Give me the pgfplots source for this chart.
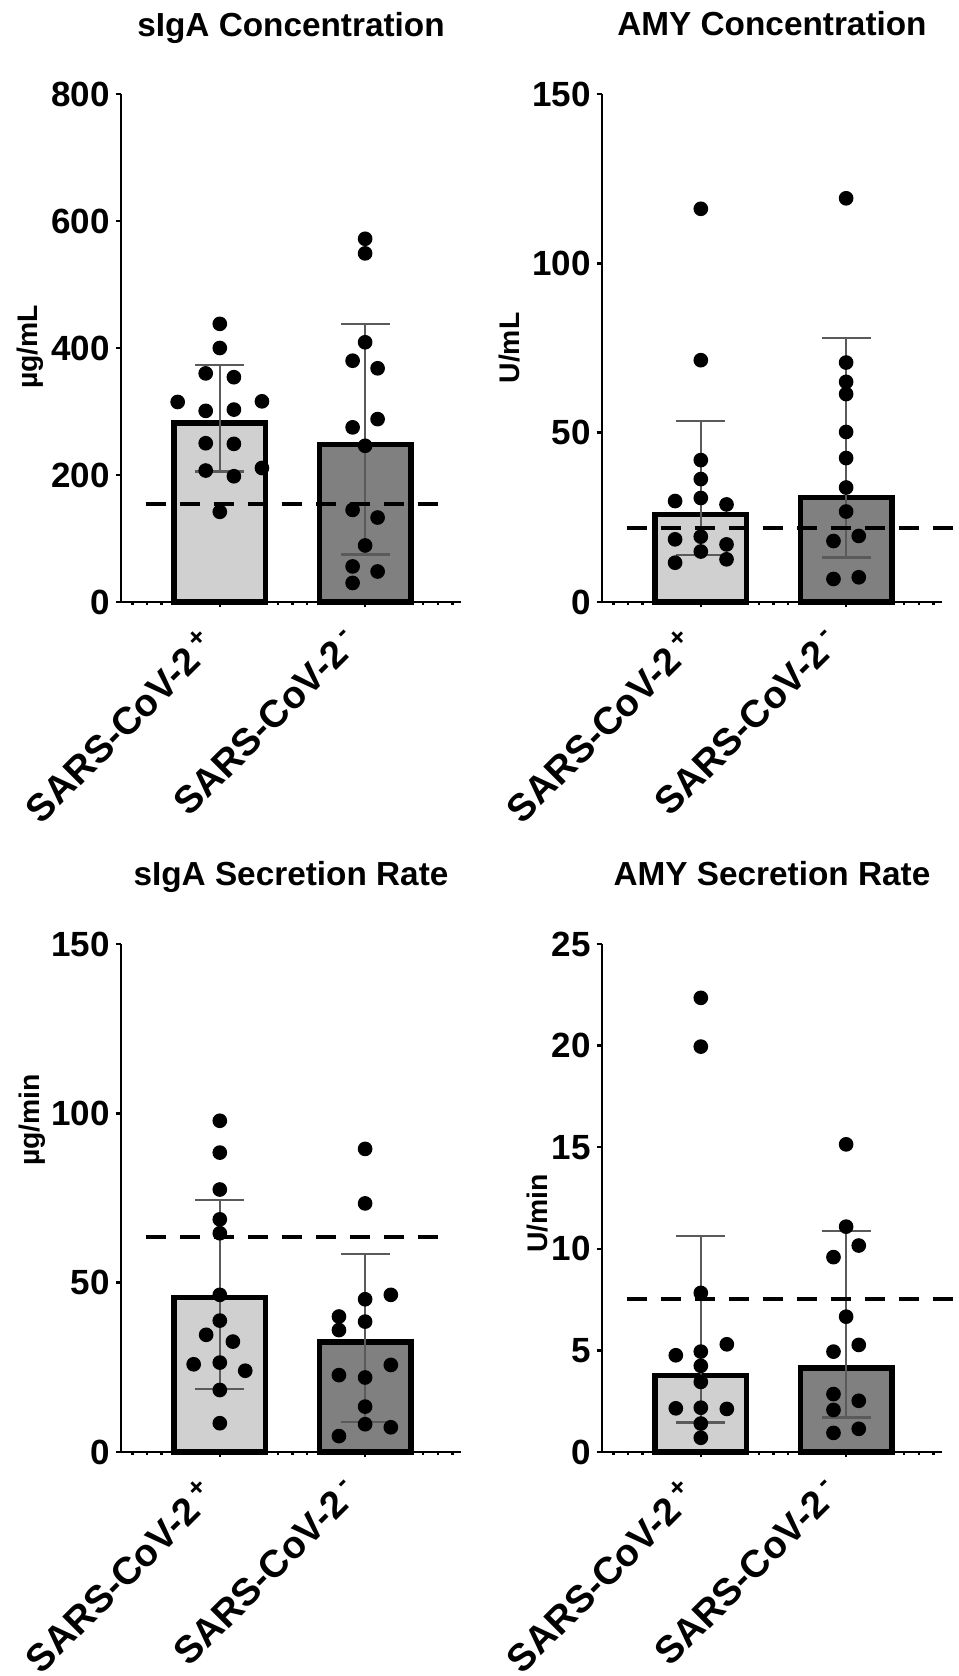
\documentclass[border=0pt]{standalone}
\usepackage{fontspec}
\setmainfont{Liberation Sans}
\usepackage{pgfplots}
\pgfplotsset{compat=1.18}

\definecolor{barlight}{RGB}{208,208,208}
\definecolor{bardark}{RGB}{128,128,128}
\definecolor{errgray}{RGB}{90,90,90}

\pgfplotsset{
  panel/.style={
    scale only axis, width=102pt, height=152.4pt,
    axis lines=left, axis line style={-, line width=0.75pt},
    xmin=-0.68, xmax=1.66, ymin=0,
    xtick={0,1},
    xticklabels={SARS-CoV-2\,\textsuperscript{+}, SARS-CoV-2\,\textsuperscript{-}},
    minor xtick={-0.6,-0.5,-0.4,-0.3,-0.2,-0.1,0.1,0.2,0.3,0.4,0.5,0.6,0.7,0.8,0.9,1.1,1.2,1.3,1.4,1.5,1.6},
    tick align=outside, major tick length=1.6pt, minor tick length=0.9pt,
    tick style={black, line width=0.75pt},
    /pgf/number format/assume math mode=true,
    x tick label style={rotate=45, anchor=north east, inner sep=1pt,
      xshift=-7.25pt, yshift=1.85pt,
      font=\bfseries\fontsize{11.5}{13}\selectfont},
    y tick label style={xshift=1.8pt, font=\bfseries\fontsize{10.5}{12}\selectfont},
    title style={at={(axis description cs:0.5,1)}, anchor=base, yshift=11.4pt,
      font=\bfseries\fontsize{10}{12}\selectfont},
    ylabel style={anchor=center, font=\bfseries\fontsize{8.5}{10}\selectfont},
    clip=false,
  },
  barA/.style={ybar, bar width=27.5pt, fill=#1, draw=black, line width=1.6pt,
    error bars/.cd, y dir=both, y explicit,
    error bar style={line width=0.75pt, errgray},
    error mark options={rotate=90, mark size=7.35pt, line width=0.75pt, errgray}},
  dots/.style={only marks, mark=*, mark size=2pt, black},
  cut/.style={black, line width=1.3pt, dash pattern=on 6pt off 4.2pt},
}

\begin{document}
\begin{tikzpicture}
\useasboundingbox (0,0) rectangle (287.4pt,502.8pt);

% sIgA concentration
\begin{axis}[panel, at={(36.3pt,322.2pt)}, anchor=south west,
  ymax=800, ytick={0,200,400,600,800},
  title={sIgA Concentration}, ylabel={µg/mL},
  ylabel style={at={(axis description cs:-0.268,0.502)}}]
\addplot[barA=barlight] coordinates {(0,282) += (0,91) -= (0,76.5)};
\addplot[barA=bardark] coordinates {(1,248) += (0,190) -= (0,173.4)};
\addplot[cut] coordinates {(-0.51,154) (1.52,154)};
\addplot[dots] coordinates {
  (0,438) (0,400) (-0.097,360) (0.097,354) (-0.29,315) (0.29,316) (-0.097,301)
  (0.097,303) (-0.097,250) (0.097,249) (-0.097,207) (0.29,211) (0.097,198) (0,142)};
\addplot[dots] coordinates {
  (1,572) (1,549) (1,409) (0.914,380) (1.086,368) (1.086,288) (0.914,275)
  (1,246) (0.914,145) (1.086,133) (1,89) (0.914,56) (1.086,48) (0.914,30)};
\end{axis}

% AMY concentration
\begin{axis}[panel, at={(180.6pt,322.2pt)}, anchor=south west,
  ymax=150, ytick={0,50,100,150},
  title={AMY Concentration}, ylabel={U/mL},
  ylabel style={at={(axis description cs:-0.271,0.5)}}]
\addplot[barA=barlight] coordinates {(0,25.8) += (0,27.6) -= (0,12.0)};
\addplot[barA=bardark] coordinates {(1,30.9) += (0,47.0) -= (0,17.8)};
\addplot[cut] coordinates {(-0.51,21.9) (1.74,21.9)};
\addplot[dots] coordinates {
  (0,116.1) (0,71.4) (0,41.9) (0,36.3) (-0.177,29.8) (0,30.7) (0.177,28.8)
  (-0.177,18.5) (0,19.3) (0.177,17.0) (0,14.9) (-0.177,11.6) (0.177,12.6)};
\addplot[dots] coordinates {
  (1,119.2) (1,70.7) (1,65.0) (1,61.4) (1,50.2) (1,42.5) (1,33.8) (1,26.7)
  (0.913,18.0) (1.087,19.5) (0.913,6.8) (1.087,7.3)};
\end{axis}

% sIgA secretion rate
\begin{axis}[panel, at={(36.3pt,67.2pt)}, anchor=south west,
  ymax=150, ytick={0,50,100,150},
  title={sIgA Secretion Rate}, ylabel={µg/min},
  ylabel style={at={(axis description cs:-0.26,0.654)}}]
\addplot[barA=barlight] coordinates {(0,45.6) += (0,28.8) -= (0,27.0)};
\addplot[barA=bardark] coordinates {(1,32.5) += (0,26.0) -= (0,23.6)};
\addplot[cut] coordinates {(-0.51,63.4) (1.50,63.4)};
\addplot[dots] coordinates {
  (0,97.8) (0,88.4) (0,77.5) (0,68.7) (0,64.6) (0,46.4) (0,38.8) (-0.094,34.6)
  (0.09,32.6) (-0.18,25.9) (0,26.4) (0.175,24.0) (0,18.3) (0,8.5)};
\addplot[dots] coordinates {
  (1,89.5) (1,73.4) (1.177,46.4) (1,45.1) (0.82,40.0) (1,38.5) (0.82,36.0)
  (1.177,25.7) (0.82,22.7) (1,22.0) (1,13.4) (1,8.2) (1.177,7.3) (0.82,4.7)};
\end{axis}

% AMY secretion rate
\begin{axis}[panel, at={(180.6pt,67.2pt)}, anchor=south west,
  ymax=25, ytick={0,5,10,15,20,25},
  title={AMY Secretion Rate}, ylabel={U/min},
  ylabel style={at={(axis description cs:-0.19,0.47)}}]
\addplot[barA=barlight] coordinates {(0,3.78) += (0,6.86) -= (0,2.32)};
\addplot[barA=bardark] coordinates {(1,4.14) += (0,6.74) -= (0,2.43)};
\addplot[cut] coordinates {(-0.51,7.54) (1.76,7.54)};
\addplot[dots] coordinates {
  (0,22.35) (0,19.95) (0,7.83) (0.179,5.30) (-0.172,4.76) (0,4.94) (0,4.24)
  (0,3.45) (-0.172,2.15) (0,2.18) (0.179,2.12) (0,1.40) (0,0.7)};
\addplot[dots] coordinates {
  (1,15.14) (1,11.09) (1.087,10.16) (0.913,9.59) (1,6.66) (1.087,5.27)
  (0.913,4.94) (0.913,2.85) (1.087,2.52) (0.913,2.07) (1.087,1.14) (0.913,0.94)};
\end{axis}
\end{tikzpicture}
\end{document}
